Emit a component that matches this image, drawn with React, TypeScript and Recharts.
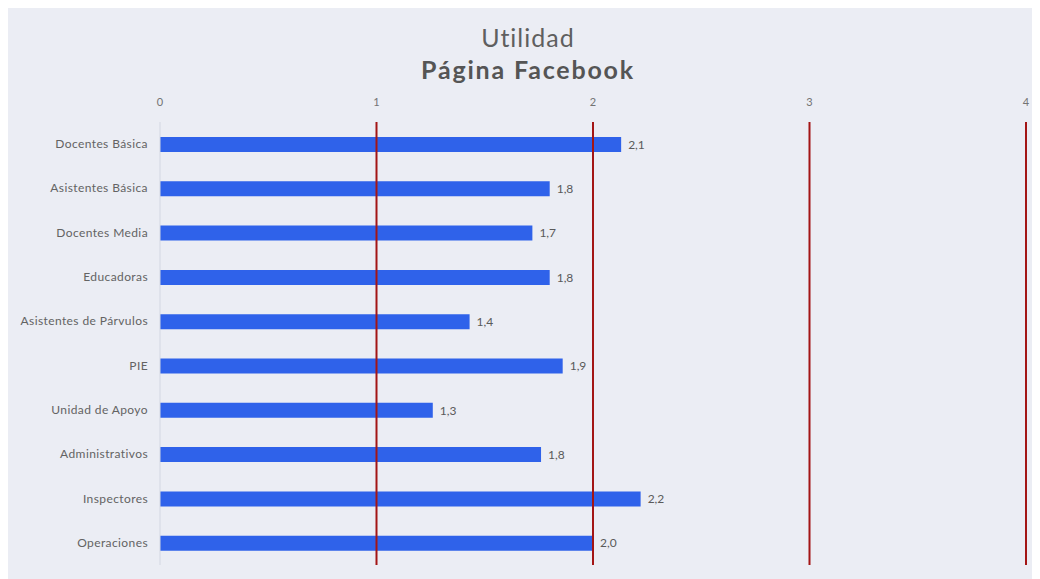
import React from 'react';
import { BarChart, Bar, XAxis, YAxis, ReferenceLine, LabelList } from 'recharts';

const categories = [
  'Docentes Básica',
  'Asistentes Básica',
  'Docentes Media',
  'Educadoras',
  'Asistentes de Párvulos',
  'PIE',
  'Unidad de Apoyo',
  'Administrativos',
  'Inspectores',
  'Operaciones',
];
const utilidad = [2.13, 1.8, 1.72, 1.8, 1.43, 1.86, 1.26, 1.76, 2.22, 2.0];
const xTicks = [0, 1, 2, 3, 4];

const data = categories.map((name, i) => ({ name, value: utilidad[i] }));

const font = 'Lato, "Open Sans", sans-serif';

const fmt = (v: any) => Number(v).toFixed(1).replace('.', ',');

const CategoryTick = (props: any) => {
  const { x, y, payload } = props;
  return (
    <text
      x={x - 4}
      y={y}
      dy={4}
      textAnchor="end"
      fill="#636363"
      fontSize={12}
      letterSpacing={0.4}
      fontFamily={font}
    >
      {payload.value}
    </text>
  );
};

const App: React.FC = () => (
  <div style={{ position: 'relative', width: 1032, height: 571, background: '#ebedf4', fontFamily: font }}>
    <div style={{ position: 'absolute', top: 14, left: 0, width: 1040, textAlign: 'center', color: '#5f5f5f', fontSize: 25, letterSpacing: 1, lineHeight: '30px' }}>
      Utilidad
    </div>
    <div style={{ position: 'absolute', top: 46, left: 0, width: 1040, textAlign: 'center', color: '#555555', fontSize: 25, fontWeight: 700, letterSpacing: 1.8, lineHeight: '30px' }}>
      Página Facebook
    </div>
    <BarChart
      width={1032}
      height={571}
      data={data}
      layout="vertical"
      margin={{ top: 84, right: 14, bottom: 14, left: 12 }}
      style={{ position: 'absolute', top: 0, left: 0 }}
    >
      <XAxis
        type="number"
        orientation="top"
        domain={[0, 4]}
        ticks={xTicks}
        height={30}
        axisLine={false}
        tickLine={false}
        tickMargin={10}
        tick={{ fill: '#737373', fontSize: 11, fontFamily: font }}
      />
      <YAxis
        type="category"
        dataKey="name"
        width={140}
        axisLine={{ stroke: '#d3d7e2' }}
        tickLine={false}
        tick={<CategoryTick />}
      />
      {xTicks.filter((t) => t > 0).map((t) => (
        <ReferenceLine key={t} x={t} stroke="#a31515" strokeWidth={2} ifOverflow="extendDomain" />
      ))}
      <Bar dataKey="value" fill="#2f62ea" barSize={15} isAnimationActive={false}>
        <LabelList
          dataKey="value"
          position="right"
          offset={7}
          formatter={fmt}
          style={{ fill: '#5a5a5a', fontSize: 12, fontFamily: font }}
        />
      </Bar>
    </BarChart>
  </div>
);

export default App;
